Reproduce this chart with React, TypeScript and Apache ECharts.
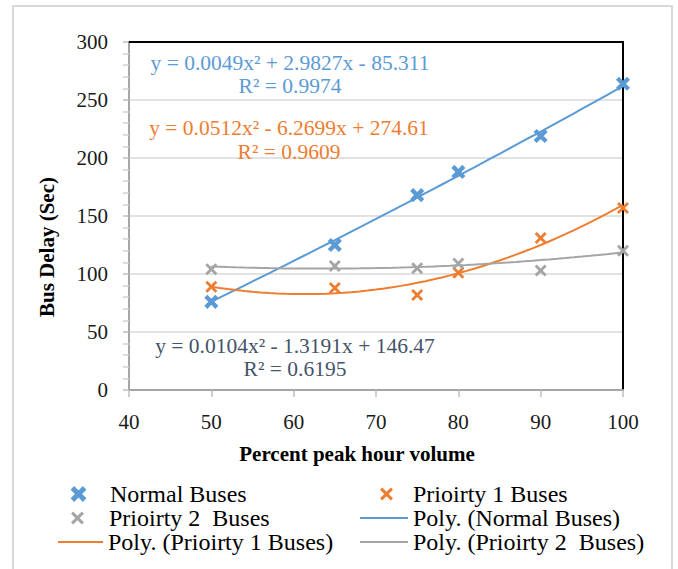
import React, { useEffect, useRef } from 'react';
import * as echarts from 'echarts';

// ---- data ----
const xValues = [50, 65, 75, 80, 90, 100];
const normalBuses = [76, 125, 168, 188, 219, 264];
const priority1Buses = [89, 88, 82, 101, 131, 157];
const priority2Buses = [104, 107, 105, 109, 103, 120];

// polynomial trendline coefficients (a, b, c) as printed on the chart
const normalFit = [0.0049, 2.9827, -85.311];
const priority1Fit = [0.0512, -6.2699, 274.61];
const priority2Fit = [0.0104, -1.3191, 146.47];

const normalEq = ['y = 0.0049x² + 2.9827x - 85.311', 'R² = 0.9974'];
const priority1Eq = ['y = 0.0512x² - 6.2699x + 274.61', 'R² = 0.9609'];
const priority2Eq = ['y = 0.0104x² - 1.3191x + 146.47', 'R² = 0.6195'];

const seriesNames = ['Normal Buses', 'Prioirty 1 Buses', 'Prioirty 2  Buses'];
const trendNames = ['Poly. (Normal Buses)', 'Poly. (Prioirty 1 Buses)', 'Poly. (Prioirty 2  Buses)'];

const xTitle = 'Percent peak hour volume';
const yTitle = 'Bus Delay (Sec)';

// ---- styles ----
const BLUE = '#5B9BD5';
const ORANGE = '#ED7D31';
const GRAY = '#A5A5A5';
const EQ_GRAY = '#44546A';
const FONT = '"Liberation Serif", "Times New Roman", serif';
const X_ICON =
  'path://M0,2 L2,0 L6,4 L10,0 L12,2 L8,6 L12,10 L10,12 L6,8 L2,12 L0,10 L4,6 Z';
const LINE_ICON = 'path://M0,0 L48,0 L48,2 L0,2 Z';

function polyAt(c: number[], x: number) {
  return c[0] * x * x + c[1] * x + c[2];
}
function trendPoints(c: number[]) {
  const pts: number[][] = [];
  for (let x = xValues[0]; x <= xValues[xValues.length - 1]; x += 1) pts.push([x, polyAt(c, x)]);
  return pts;
}

function legendItem(name: string, icon: string, left: number, top: number, itemWidth: number, padLeft: number) {
  return {
    show: true,
    left,
    top,
    orient: 'horizontal',
    padding: 0,
    itemGap: 0,
    itemWidth,
    itemHeight: 13,
    symbolKeepAspect: true,
    selectedMode: false,
    data: [{ name, icon }],
    textStyle: {
      fontFamily: FONT,
      fontSize: 24,
      color: '#000',
      lineHeight: 24,
      padding: [0, 0, 0, padLeft],
    },
  };
}

export default function App() {
  const ref = useRef<HTMLDivElement>(null);

  useEffect(() => {
    if (!ref.current) return;
    const chart = echarts.init(ref.current, undefined, { renderer: 'svg' });

    const scatter = (name: string, vals: number[], color: string, border: number) => ({
      name,
      type: 'scatter',
      data: xValues.map((x, i) => [x, vals[i]]),
      symbol: X_ICON,
      symbolSize: 12,
      itemStyle: { color, borderColor: color, borderWidth: border, opacity: 1 },
      z: 4,
    });
    const trend = (name: string, c: number[], color: string) => ({
      name,
      type: 'line',
      data: trendPoints(c),
      symbol: 'none',
      showSymbol: false,
      smooth: false,
      lineStyle: { color, width: 2 },
      itemStyle: { color },
      z: 3,
      silent: true,
    });

    const eqText = (lines: string[], x: number, y: number, color: string, lh: number) => ({
      type: 'text',
      x,
      y,
      z: 10,
      style: {
        text: lines.join('\n'),
        align: 'center',
        verticalAlign: 'top',
        fill: color,
        font: `21.5px ${FONT}`,
        lineHeight: lh,
      },
    });

    const option = {
      animation: false,
      backgroundColor: '#ffffff',
      grid: { left: 129, right: 55, top: 42, bottom: 179, containLabel: false },
      xAxis: [
        {
          type: 'value',
          min: 40,
          max: 100,
          interval: 10,
          axisLine: { show: true, onZero: false, lineStyle: { color: '#A6A6A6', width: 2 } },
          axisTick: { show: true, length: 7, lineStyle: { color: '#BFBFBF', width: 1.5 } },
          axisLabel: { margin: 21, fontSize: 21, fontFamily: FONT, color: '#1a1a1a' },
          splitLine: { show: false },
        },
        {
          type: 'value',
          position: 'top',
          min: 40,
          max: 100,
          interval: 10,
          axisLine: { show: true, onZero: false, lineStyle: { color: '#000', width: 2 } },
          axisTick: { show: false },
          axisLabel: { show: false },
          splitLine: { show: false },
        },
      ],
      yAxis: [
        {
          type: 'value',
          min: 0,
          max: 300,
          interval: 50,
          axisLine: { show: true, onZero: false, lineStyle: { color: '#A6A6A6', width: 2 } },
          axisTick: { show: true, length: 6, lineStyle: { color: '#BFBFBF', width: 1.5 } },
          minorTick: { show: true, splitNumber: 5, length: 6, lineStyle: { color: '#D0D0D0', width: 1.5 } },
          axisLabel: { margin: 21, fontSize: 21, fontFamily: FONT, color: '#1a1a1a' },
          splitLine: { show: true, lineStyle: { color: '#D9D9D9', width: 1.5 } },
        },
        {
          type: 'value',
          position: 'right',
          min: 0,
          max: 300,
          interval: 50,
          axisLine: { show: true, onZero: false, lineStyle: { color: '#000', width: 2 } },
          axisTick: { show: false },
          axisLabel: { show: false },
          splitLine: { show: false },
        },
      ],
      legend: [
        legendItem(seriesNames[0], X_ICON, 71, 482, 13, 20),
        legendItem(seriesNames[1], X_ICON, 380, 482, 13, 15),
        legendItem(seriesNames[2], X_ICON, 71, 506, 13, 20),
        legendItem(trendNames[0], LINE_ICON, 360, 506, 48, 0),
        legendItem(trendNames[1], LINE_ICON, 58, 530, 45, 0),
        legendItem(trendNames[2], LINE_ICON, 360, 530, 48, 0),
      ],
      series: [
        trend(trendNames[0], normalFit, BLUE),
        trend(trendNames[1], priority1Fit, ORANGE),
        trend(trendNames[2], priority2Fit, GRAY),
        scatter(seriesNames[0], normalBuses, BLUE, 1.5),
        scatter(seriesNames[1], priority1Buses, ORANGE, 0),
        scatter(seriesNames[2], priority2Buses, GRAY, 0),
      ],
      graphic: [
        {
          type: 'rect',
          z: 0,
          shape: { x: 13, y: 6, width: 659, height: 600 },
          style: { fill: 'none', stroke: '#D9D9D9', lineWidth: 2 },
        },
        eqText(normalEq, 290, 51, BLUE, 23),
        eqText(priority1Eq, 289, 116, ORANGE, 24),
        eqText(priority2Eq, 295, 334, EQ_GRAY, 23),
        {
          type: 'text',
          x: 357,
          y: 454,
          style: {
            text: xTitle,
            align: 'center',
            verticalAlign: 'middle',
            fill: '#000',
            font: `bold 21px ${FONT}`,
          },
        },
        {
          type: 'text',
          x: 47,
          y: 247,
          rotation: Math.PI / 2,
          style: {
            text: yTitle,
            align: 'center',
            verticalAlign: 'middle',
            fill: '#000',
            font: `bold 21px ${FONT}`,
          },
        },
      ],
    };

    chart.setOption(option as any);
    return () => chart.dispose();
  }, []);

  return (
    <div
      ref={ref}
      style={{ position: 'absolute', left: 0, top: 0, width: 678, height: 569, background: '#fff' }}
    />
  );
}
